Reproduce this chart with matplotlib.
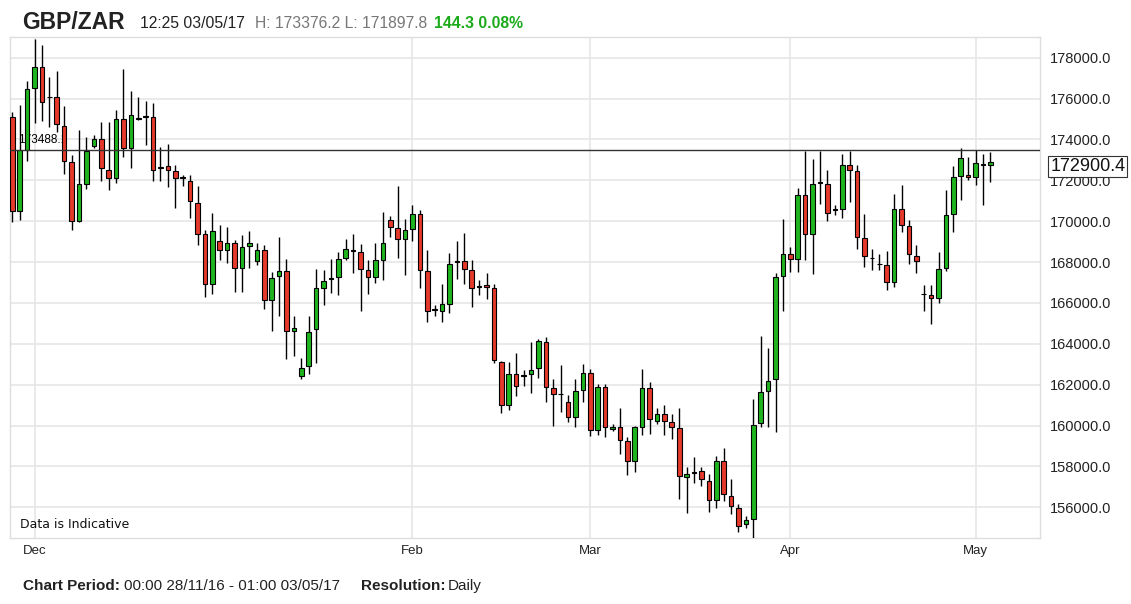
import matplotlib
matplotlib.use("Agg")
import matplotlib.pyplot as plt
import numpy as np

plt.rcParams['font.family'] = ['Liberation Sans', 'DejaVu Sans']

# ---------------- data ----------------
symbol = "GBP/ZAR"
quote_time = "12:25 03/05/17"
day_high = 173376.2
day_low = 171897.8
change = 144.3
change_pct = 0.08
period_text = "00:00 28/11/16 - 01:00 03/05/17"
resolution_text = "Daily"
ref_level = 173488.1

opens = [175075, 170500, 173474, 176496, 177559, 176100, 176088, 174666, 172902, 169993,
         171840, 173670, 174045, 172526, 172134, 174977, 173588, 175050, 175130, 175075,
         172580, 172689, 172461, 172150, 171970, 170908, 169356, 166905, 169029, 168604,
         168947, 167722, 168784, 168049, 168604, 166153, 167297, 167559, 164617, 162444,
         162934, 164732, 166742, 167200, 167264, 168196, 168590, 168490, 167624, 167264,
         168114, 170075, 169666, 169111, 169601, 170369, 167559, 165680, 165630, 165957,
         168050, 168032, 167624, 166820, 166889, 166725, 163130, 161006, 162526, 162460,
         162526, 162804, 164111, 161823, 161560, 161170, 160402, 161741, 162558, 159781,
         161905, 159813, 159944, 159225, 158277, 159944, 161840, 160238, 160565, 160189,
         159879, 157493, 157720, 157787, 157297, 156349, 158245, 156562, 155957, 155205,
         155451, 160124, 161709, 162281, 167314, 168376, 168163, 171268, 169356, 171900,
         171840, 170580, 170614, 172738, 172461, 169193, 168210, 167900, 167836, 167019,
         170581, 169748, 168294, 166460, 166398, 166235, 167706, 170369, 172215, 172281,
         172166, 172820, 172756]

highs = [175353, 175679, 176872, 178915, 178637, 177068, 177346, 175630, 173228, 174454,
         174127, 174209, 174862, 174862, 175434, 177428, 176366, 176055, 175876, 175761,
         173637, 173768, 172771, 172248, 172248, 171709, 169552, 170402, 169830, 169715,
         169060, 169323, 169503, 168947, 168817, 167509, 169225, 168130, 165385, 163310,
         165385, 167673, 167624, 168163, 168490, 169143, 169389, 168898, 168081, 168947,
         170451, 170238, 171725, 170108, 170777, 170532, 168572, 165876, 166938, 168457,
         169029, 169438, 168081, 167134, 167477, 166938, 163180, 163130, 163539, 162738,
         164078, 164241, 164356, 162281, 162967, 161496, 162281, 163016, 162771, 162036,
         162036, 160075, 160843, 159421, 159993, 162771, 162150, 160843, 161023, 160565,
         160859, 157951, 158441, 157951, 157624, 158522, 158898, 157379, 156186, 155581,
         161300, 164405, 163800, 167477, 170091, 168735, 171644, 173441, 173065, 173441,
         172493, 170810, 173310, 173441, 172738, 170369, 168653, 168408, 168539, 171317,
         171758, 170075, 168817, 166856, 166856, 168490, 171545, 172689, 173588, 173147,
         173474, 173278, 173376.2]

lows = [169960, 170075, 172934, 174781, 174912, 174617, 174372, 172297, 169585, 169960,
        171562, 173604, 171970, 171545, 171872, 173147, 172624, 174944, 173719, 171970,
        171970, 171676, 170663, 171709, 170157, 168817, 166284, 166415, 168081, 167967,
        166513, 166513, 167722, 167836, 165712, 164650, 165385, 163261, 163392, 162281,
        162526, 163065, 165876, 166496, 166398, 168114, 167460, 165598, 166447, 166987,
        167134, 169225, 168212, 167346, 169029, 166742, 165091, 165385, 165091, 165500,
        167183, 166905, 165826, 166366, 166202, 163049, 160614, 160777, 161464, 161921,
        161594, 162330, 161137, 159993, 160647, 160189, 159911, 161137, 159503, 159536,
        159454, 159748, 158604, 157575, 157706, 159552, 159585, 160075, 159536, 159339,
        156431, 155713, 157183, 157052, 155777, 155990, 156317, 155663, 154813, 155009,
        154437, 159911, 159944, 159699, 165630, 167509, 167509, 168081, 167428, 170859,
        170010, 170320, 170157, 170941, 168653, 167755, 167591, 167624, 166611, 166774,
        169470, 167918, 167460, 165630, 164977, 165990, 167559, 169470, 171023, 172003,
        171758, 170777, 171897.8]

closes = [170500, 173474, 176447, 177559, 175843, 176060, 174748, 172951, 170010, 171807,
          173441, 174045, 172624, 172134, 174977, 173604, 175189, 175020, 175090, 172526,
          172660, 172526, 172134, 172120, 170974, 169389, 166938, 169519, 168604, 168947,
          167722, 168735, 168947, 168604, 166153, 167232, 167559, 164650, 164781, 162820,
          164601, 166725, 167068, 167170, 168163, 168621, 168560, 167673, 167264, 168081,
          168947, 169715, 169111, 169552, 170369, 167591, 165630, 165660, 165925, 167918,
          168020, 167673, 166742, 166800, 166774, 163212, 161006, 162526, 161954, 162440,
          162722, 164160, 161872, 161545, 161540, 160402, 161709, 162558, 159781, 161905,
          159944, 159944, 159307, 158277, 159911, 161840, 160320, 160565, 160238, 159911,
          157509, 157624, 157700, 157411, 156349, 158245, 156643, 156072, 155091, 155369,
          160042, 161627, 162199, 167264, 168376, 168163, 171268, 169356, 171807, 171890,
          170402, 170570, 172738, 172526, 169225, 168277, 168200, 167890, 167019, 170581,
          169830, 168376, 168049, 166450, 166235, 167673, 170320, 172166, 173114, 172166,
          172853, 172756, 172900.4]

month_labels = ["Dec", "Feb", "Mar", "Apr", "May"]
month_start_index = [3, 54, 78, 105, 130]
y_ticks = list(range(156000, 178001, 2000))

# ---------------- figure ----------------
W, H = 1131, 604
fig = plt.figure(figsize=(W / 100, H / 100), dpi=100)
fig.patch.set_facecolor('white')

ax = fig.add_axes([10 / W, 1 - 538 / H, 1030 / W, 501 / H])

o = np.array(opens, dtype=float)
h = np.array(highs, dtype=float)
l = np.array(lows, dtype=float)
c = np.array(closes, dtype=float)
x = np.arange(len(o))
up = c >= o
body_colors = np.where(up, '#1fb51f', '#e5392c')

ax.vlines(x, l, h, color='black', lw=1.0, zorder=3)
ax.bar(x, c - o, bottom=o, width=0.62, color=body_colors,
       edgecolor='black', linewidth=0.8, zorder=4)

ax.set_xlim(-0.31, 138.69)
ax.set_ylim(154500, 179012)

ax.set_axisbelow(True)
ax.grid(True, color='#e6e6e6', lw=1.2)
for s in ax.spines.values():
    s.set_color('#dedede')
    s.set_linewidth(1.0)

ax.set_xticks(month_start_index, month_labels)
ax.yaxis.tick_right()
ax.set_yticks(y_ticks, [f"{v:.1f}" for v in y_ticks])
ax.tick_params(axis='y', length=0, pad=7, labelsize=10.5, labelcolor='#222')
ax.tick_params(axis='x', length=0, pad=5, labelsize=9.5, labelcolor='#222')

# reference line and label
ax.axhline(ref_level, color='#333333', lw=1.0, zorder=5)
ax.annotate(f"{ref_level:.1f}", xy=(0, ref_level), xycoords=('axes fraction', 'data'),
            xytext=(5.8, 3.0), textcoords='offset points', ha='left', va='bottom',
            fontsize=8.5, color='black', zorder=2.5)

# last price box
ax.annotate(f"{closes[-1]:.1f}", xy=(1, closes[-1]), xycoords=('axes fraction', 'data'),
            xytext=(7.4, -3.2), textcoords='offset points', ha='left', va='center',
            fontsize=13, color='#111',
            bbox=dict(boxstyle='square,pad=0.1', fc='white', ec='#333333', lw=0.8),
            annotation_clip=False, zorder=6)

fig.text(20 / W, 1 - 525 / H, "Data is Indicative", family='DejaVu Sans',
         fontsize=9, color='#111', va='center', ha='left')

# header
fig.text(22 / W, 1 - 29 / H, symbol, fontsize=16.5, fontweight='bold', color='#222', va='baseline')
fig.text(140 / W, 1 - 28.5 / H, quote_time, fontsize=11.3, color='#222', va='baseline')
fig.text(255 / W, 1 - 28.5 / H, f"H: {day_high:.1f} L: {day_low:.1f}", fontsize=11.3,
         color='#777777', va='baseline')
fig.text(434 / W, 1 - 28.5 / H, f"{change:.1f} {change_pct:.2f}%", fontsize=11.3,
         fontweight='bold', color='#1aaa1a', va='baseline')

# footer
fy = 1 - 590 / H
fig.text(23 / W, fy, "Chart Period:", fontsize=11, fontweight='bold', color='#222', va='baseline')
fig.text(124 / W, fy, period_text, fontsize=11, color='#222', va='baseline')
fig.text(361 / W, fy, "Resolution:", fontsize=11, fontweight='bold', color='#222', va='baseline')
fig.text(448 / W, fy, resolution_text, fontsize=11, color='#222', va='baseline')

fig.savefig("out.png", dpi=100, facecolor='white')
